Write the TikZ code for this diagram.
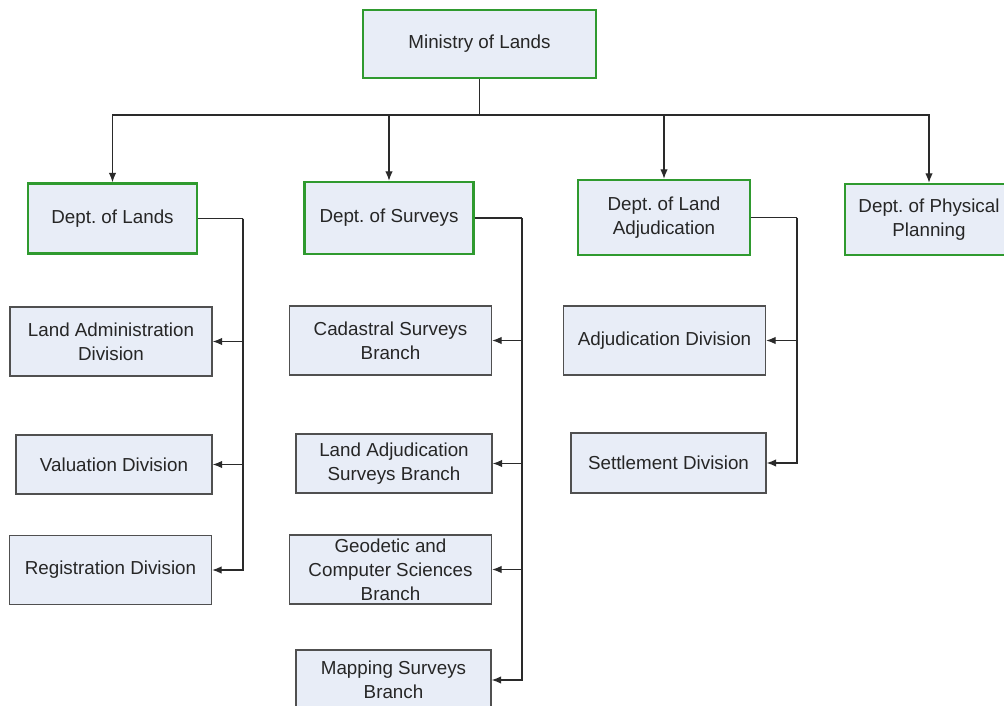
\documentclass[tikz,border=0pt]{standalone}
\usepackage{fontspec}
\setmainfont{Liberation Sans}
\frenchspacing
\usetikzlibrary{arrows.meta,positioning,calc}
\definecolor{boxfill}{HTML}{E8EDF7}
\definecolor{deptgreen}{HTML}{2F9A2F}
\definecolor{divgray}{HTML}{505050}
\definecolor{linegray}{HTML}{2A2A2A}
\tikzset{
    deptbox/.style={draw=deptgreen, line width=1.4pt, fill=boxfill, align=center,
        font=\fontsize{10.7}{13.6}\selectfont, text=black!85, minimum width=3.38cm,
        minimum height=1.4cm, inner sep=0pt},
    divbox/.style={draw=divgray, line width=0.8pt, fill=boxfill, align=center,
        font=\fontsize{10.7}{13.6}\selectfont, text=black!85, minimum width=4.04cm,
        minimum height=1.38cm, inner sep=0pt},
    orgline/.style={draw=linegray, line width=0.7pt},
    orgarrow/.style={orgline, -{Latex[length=1.9mm, width=1.5mm]}}
}

\begin{document}
\begin{tikzpicture}[x=0.02cm, y=-0.02cm]
\useasboundingbox (0,0) rectangle (1004,706);
% top level
\node[deptbox, minimum width=4.66cm, minimum height=1.36cm] (ministry) at (479.5,44) {Ministry of Lands};
% departments
\node[deptbox] (lands) at (112.5,218.5) {Dept. of Lands};
\node[deptbox, minimum height=1.44cm] (surveys) at (389,218) {Dept. of Surveys};
\node[deptbox, minimum width=3.44cm, minimum height=1.5cm] (adjud) at (664,217.5) {Dept. of Land\\Adjudication};
\node[deptbox, minimum width=3.36cm, minimum height=1.42cm] (physical) at (929,219.5) {Dept. of Physical\\Planning};
% divisions of lands
\node[divbox] (landadmin) at (111,341.5) {Land Administration\\Division};
\node[divbox, minimum width=3.92cm, minimum height=1.18cm] (valuation) at (114,464.5) {Valuation Division};
\node[divbox] (registration) at (110.5,570) {Registration Division};
% branches of surveys
\node[divbox] (cadastral) at (390.5,340.5) {Cadastral Surveys\\Branch};
\node[divbox, minimum width=3.92cm, minimum height=1.18cm] (landadjsurv) at (394,463.5) {Land Adjudication\\Surveys Branch};
\node[divbox] (geodetic) at (390.5,569.5) {Geodetic and\\Computer Sciences\\Branch};
\node[divbox, minimum width=3.9cm, minimum height=1.2cm] (mapping) at (393.5,680) {Mapping Surveys\\Branch};
% divisions of adjudication
\node[divbox] (adjdiv) at (664.5,340.5) {Adjudication Division};
\node[divbox, minimum width=3.9cm, minimum height=1.2cm] (settlement) at (668.5,463) {Settlement Division};

% ministry to departments
\coordinate (bus) at (479.5,115);
\draw[orgline] (ministry.south) -- (bus);
\foreach \d in {lands,surveys,adjud,physical}
    \draw[orgarrow] (bus) -| (\d.north);

% department rails
\coordinate (landsrail) at (243,218.5);
\coordinate (surveysrail) at (522,218);
\coordinate (adjudrail) at (797,217.5);
\draw[orgline] (lands.east) -- (landsrail);
\draw[orgline] (surveys.east) -- (surveysrail);
\draw[orgline] (adjud.east) -- (adjudrail);
\foreach \c in {landadmin,valuation,registration}
    \draw[orgarrow] (landsrail) |- (\c.east);
\foreach \c in {cadastral,landadjsurv,geodetic,mapping}
    \draw[orgarrow] (surveysrail) |- (\c.east);
\foreach \c in {adjdiv,settlement}
    \draw[orgarrow] (adjudrail) |- (\c.east);
\end{tikzpicture}
\end{document}
